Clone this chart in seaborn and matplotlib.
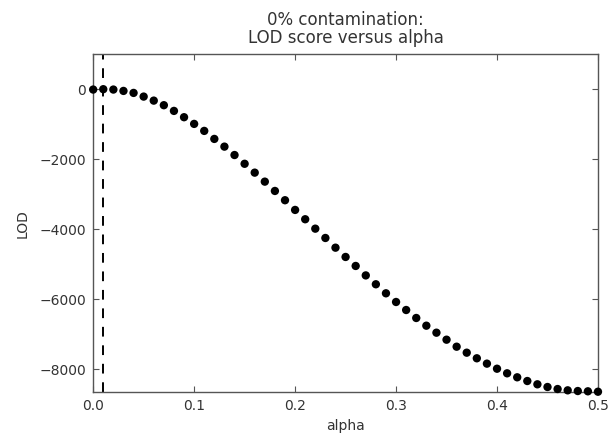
import numpy as np
import pandas as pd
import matplotlib
matplotlib.use('Agg')
import matplotlib.pyplot as plt
import seaborn as sns

# Data
alpha = [0.00, 0.01, 0.02, 0.03, 0.04, 0.05, 0.06, 0.07, 0.08, 0.09,
         0.10, 0.11, 0.12, 0.13, 0.14, 0.15, 0.16, 0.17, 0.18, 0.19,
         0.20, 0.21, 0.22, 0.23, 0.24, 0.25, 0.26, 0.27, 0.28, 0.29,
         0.30, 0.31, 0.32, 0.33, 0.34, 0.35, 0.36, 0.37, 0.38, 0.39,
         0.40, 0.41, 0.42, 0.43, 0.44, 0.45, 0.46, 0.47, 0.48, 0.49, 0.50]
lod = [-10, 0, -10, -49, -106, -211, -326, -457, -620, -800,
       -991, -1191, -1420, -1640, -1880, -2130, -2383, -2640, -2906, -3171,
       -3448, -3714, -3983, -4249, -4526, -4791, -5048, -5318, -5571, -5829,
       -6077, -6306, -6534, -6754, -6954, -7154, -7354, -7525, -7685, -7838,
       -7983, -8114, -8228, -8334, -8428, -8505, -8563, -8600, -8620, -8628, -8640]
alpha_true = 0.01
yticks = [0, -2000, -4000, -6000, -8000]
xticks = [0.0, 0.1, 0.2, 0.3, 0.4, 0.5]

df = pd.DataFrame({'alpha': alpha, 'LOD': lod})

sns.set_style("ticks", {'xtick.direction': 'in', 'ytick.direction': 'in'})
plt.rcParams['font.family'] = ['DejaVu Sans']
txt = '#333333'

fig = plt.figure(figsize=(6.13, 4.37), dpi=100)
ax = fig.add_axes([0.152, 0.102, 0.8235, 0.774])

sns.scatterplot(data=df, x='alpha', y='LOD', ax=ax, color='black',
                s=36, edgecolor='none', zorder=3, clip_on=False)
ax.axvline(alpha_true, color='black', lw=1.4, dashes=(5, 4.5), zorder=2)

ax.set_xlim(0, 0.5)
ax.set_ylim(-8660, 1000)
ax.set_xticks(xticks)
ax.set_yticks(yticks)
ax.set_xticklabels(['%.1f' % t for t in xticks])
ax.set_yticklabels(['\u2212%d' % -t if t < 0 else '0' for t in yticks])

ax.tick_params(direction='in', top=True, right=True, length=4, width=0.8,
               labelsize=10, labelcolor=txt, color='#555555', pad=5)
for sp in ax.spines.values():
    sp.set_visible(True)
    sp.set_color('#555555')
    sp.set_linewidth(1.0)

ax.set_xlabel('alpha', fontsize=10, color=txt, labelpad=4)
ax.set_ylabel('LOD', fontsize=10, color=txt, labelpad=7)
ax.set_title('0% contamination:\nLOD score versus alpha', fontsize=12,
             color=txt, pad=8, linespacing=1.0)

fig.savefig('out.png', dpi=100)
